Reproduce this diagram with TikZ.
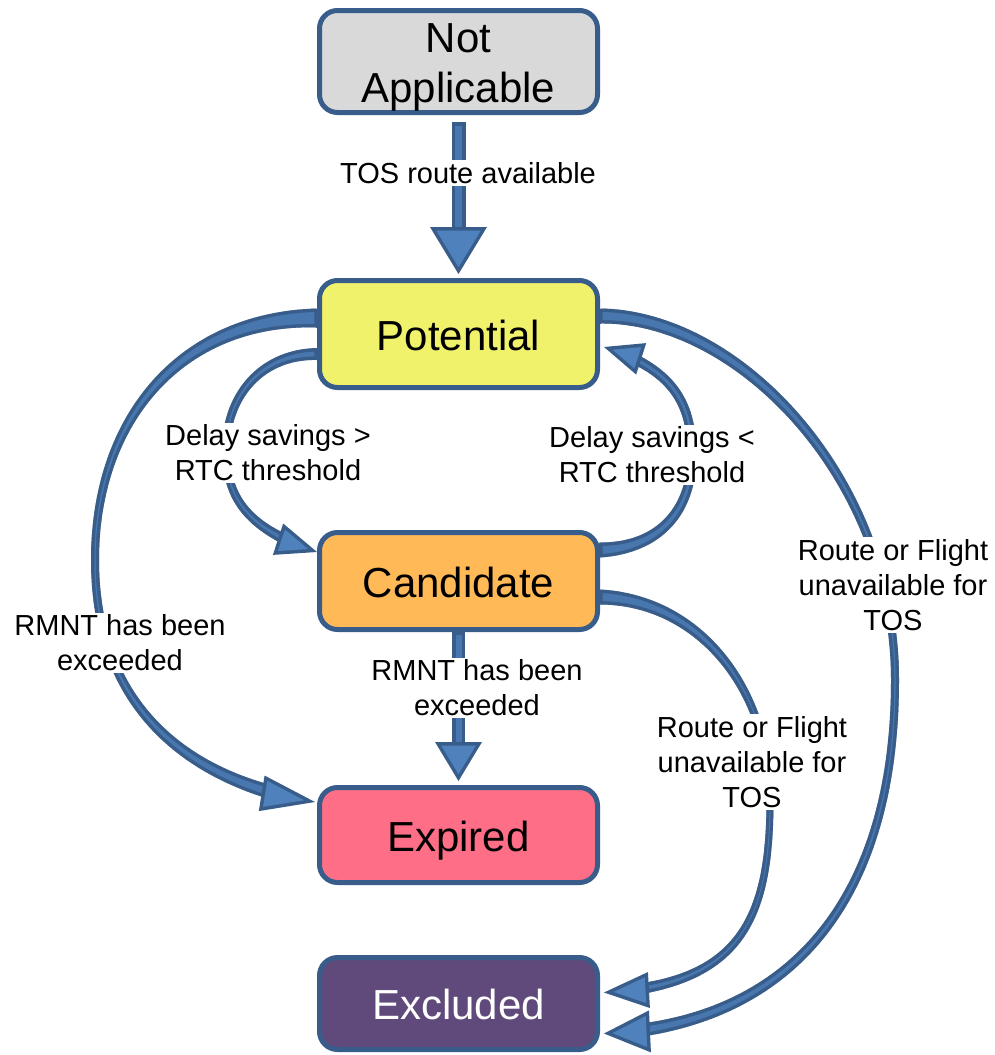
\documentclass[tikz,border=0pt]{standalone}
\usepackage{fontspec}
\setmainfont{Liberation Sans}
\usetikzlibrary{calc,backgrounds,decorations.markings}

\definecolor{edgeblue}{HTML}{385D8A}
\definecolor{bodyblue}{HTML}{4F81BD}
\colorlet{shaftblue}{bodyblue!70!edgeblue}
\definecolor{nagray}{HTML}{D9D9D9}
\definecolor{potyellow}{HTML}{F0F26B}
\definecolor{candorange}{HTML}{FFB957}
\definecolor{exppink}{HTML}{FF6E87}
\definecolor{excpurple}{HTML}{604A7B}

\tikzset{
  statebox/.style={draw=edgeblue, line width=5pt, rounded corners=18pt,
    minimum width=278pt, text=black, align=center, inner sep=0pt,
    text height=41pt, text depth=9pt,
    font=\fontsize{42}{50}\selectfont},
  cond/.style={fill=white, inner sep=2pt, align=center,
    font=\fontsize{29}{35}\selectfont},
}

% outline width of the block arrows
\def\taB{3.5}

% one cross-section slice of a tapered shaft: #1 colour, #2 inset
\newcommand\taslice[2]{%
  \pgfmathsetmacro\taU{\pgfkeysvalueof{/pgf/decoration/mark info/distance from start}/\pgfdecoratedpathlength}%
  \pgfmathsetmacro\taR{max(0.4,(\taM+ifthenelse(\taU<0.5,\taS-\taM,\taE-\taM)*(2*\taU-1)^2-#2)/2)}%
  \fill[#1] (-0.8,-\taR) rectangle (0.8,\taR);
}

% tapered block arrow:
% #1 start width, #2 middle width, #3 end width, #4 head length, #5 head width, #6 path
\newcommand\taperarrow[6]{%
  \def\taS{#1}\def\taM{#2}\def\taE{#3}%
  \pgfmathsetmacro\taStop{-0.6*#4}%
  \pgfmathsetmacro\taAng{atan((#5/2)/#4)}%
  \pgfmathsetmacro\taSh{\taB/sin(\taAng)}%
  \pgfmathsetmacro\taL{#4-\taB-\taSh}%
  \pgfmathsetmacro\taW{#5*\taL/#4}%
  \path[decorate, decoration={markings,
      mark=between positions 0pt and \taStop pt step 1pt with {\taslice{edgeblue}{0}}}] #6;
  \path[decorate, decoration={markings,
      mark=between positions \taB pt and \taStop pt step 1pt with {\taslice{shaftblue}{2*\taB}}}] #6;
  \path[decorate, decoration={markings,
      mark=at position 1 with {%
        \fill[edgeblue] (0,0) -- (-#4,#5/2) -- (-#4,-#5/2) -- cycle;
        \fill[bodyblue] (-\taSh,0) -- (-\taSh-\taL,\taW/2) -- (-\taSh-\taL,-\taW/2) -- cycle;}}] #6;
}

\begin{document}
\begin{tikzpicture}[x=1pt, y=-1pt]
\useasboundingbox (0,0) rectangle (994,1055);

% states
\node[statebox, fill=nagray, minimum height=102pt, text height=, text depth=]
  (na) at (458.5,61.5) {\rule{0pt}{40pt}Not\\Applicable};
\node[statebox, fill=potyellow, minimum height=107pt] (pot) at (458.5,334) {Potential};
\node[statebox, fill=candorange, minimum height=97pt] (cand) at (458.5,581) {Candidate};
\node[statebox, fill=exppink, minimum height=95pt] (exp) at (458.5,835) {Expired};
\node[statebox, fill=excpurple, minimum height=92pt, text=white] (exc) at (458.5,1003.5) {Excluded};

% transitions
\begin{scope}[on background layer]
  \fill[white] (0,0) rectangle (994,1055);
  \taperarrow{14}{14}{14}{47}{57}{($(na.south)+(0,8)$) -- ($(pot.north)+(0,-4)$)}
  \taperarrow{13}{13}{13}{39}{47}{(cand.south) -- ($(exp.north)+(0,-4)$)}
  \taperarrow{12}{8}{12}{41}{33}{($(pot.west)+(0,20)$) .. controls (262,354) and (226,395) .. (226,450)
      .. controls (226,500) and (250,530) .. ($(cand.west)+(0,-29)$)}
  \taperarrow{15}{9}{11}{39}{33}{($(cand.east)+(0,-31)$) .. controls (660,548) and (692,510) .. (692,455)
      .. controls (692,400) and (670,368) .. ($(pot.east)+(4,13)$)}
  \taperarrow{19}{8}{16}{54}{36}{($(pot.west)+(0,-16)$) .. controls (180,318) and (95,420) .. (95,560)
      .. controls (95,700) and (180,780) .. ($(exp.west)+(-2,-33)$)}
  \taperarrow{15}{8}{14}{46}{42}{($(pot.east)+(0,-18)$) .. controls (740,316) and (895,480) .. (895,680)
      .. controls (895,900) and (790,1025) .. ($(exc.east)+(4,30)$)}
  \taperarrow{15}{7}{12}{45}{36}{($(cand.east)+(0,16)$) .. controls (700,600) and (770,690) .. (770,800)
      .. controls (770,920) and (740,985) .. ($(exc.east)+(4,-11)$)}
\end{scope}

% transition conditions
\node[cond] (l1) at (468,173) {TOS route available};
\node[cond] (l2) at (268,453) {Delay savings >\\RTC threshold};
\node[cond] (l3) at (652,455) {Delay savings <\\RTC threshold};
\node[cond] (l4) at (120,643) {RMNT has been\\exceeded};
\node[cond] (l5) at (477,688) {RMNT has been\\exceeded};
\node[cond] (l6) at (893,585) {Route or Flight\\unavailable for\\TOS};
\node[cond] (l7) at (752,762) {Route or Flight\\unavailable for\\TOS};
\end{tikzpicture}
\end{document}
